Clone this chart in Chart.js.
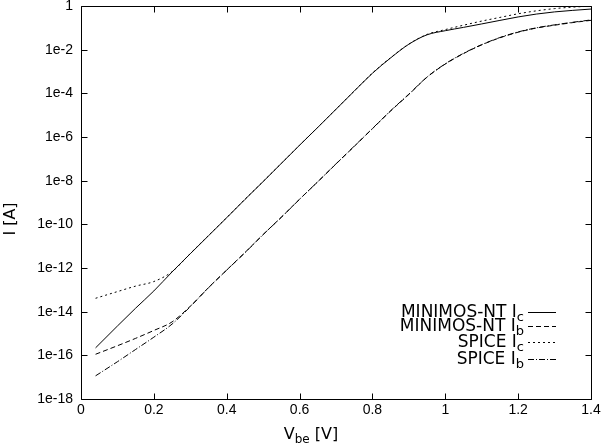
<!DOCTYPE html>
<html>
<head>
<meta charset="utf-8">
<title>Gummel plot</title>
<script src="https://cdn.jsdelivr.net/npm/chart.js@4.4.0/dist/chart.umd.min.js"></script>
<style>
    html, body { margin: 0; padding: 0; background: #fff; }
    #wrap { width: 602px; height: 445px; }
</style>
</head>
<body>
<div id="wrap"><canvas id="gummelChart" width="602" height="445"></canvas></div>
<script>
/* Gummel plot: MINIMOS-NT vs SPICE */

// base-emitter voltage [V]
const vbe = [0.04, 0.1, 0.15, 0.2, 0.25, 0.3, 0.35, 0.4, 0.45, 0.5, 0.55, 0.6, 0.65, 0.7,
    0.75, 0.8, 0.85, 0.9, 0.95, 1.0, 1.05, 1.1, 1.15, 1.2, 1.25, 1.3, 1.35, 1.4];

// currents [A]
const icMinimos = [2.2e-16, 2.2e-15, 1.45e-14, 8.9e-14, 6.6e-13, 4.5e-12, 3.0e-11, 2.0e-10,
    1.38e-9, 9.1e-9, 6.2e-8, 4.2e-7, 2.75e-6, 1.86e-5, 1.26e-4, 8.3e-4, 4.2e-3, 1.78e-2,
    4.8e-2, 7.4e-2, 0.105, 0.151, 0.219, 0.316, 0.427, 0.537, 0.631, 0.724];
const ibMinimos = [1.12e-16, 2.75e-16, 6.0e-16, 1.38e-15, 3.4e-15, 1.78e-14, 1.26e-13, 8.1e-13,
    5.1e-12, 3.4e-11, 2.14e-10, 1.41e-9, 8.9e-9, 5.8e-8, 3.7e-7, 2.4e-6, 1.55e-5, 8.9e-5,
    5.5e-4, 2.2e-3, 6.6e-3, 1.66e-2, 3.5e-2, 6.3e-2, 9.8e-2, 0.132, 0.174, 0.22];
const icSpice = [4.1e-14, 8.3e-14, 1.48e-13, 2.4e-13, 6.8e-13, 4.6e-12, 3.1e-11, 2.05e-10,
    1.4e-9, 9.2e-9, 6.2e-8, 4.2e-7, 2.8e-6, 1.88e-5, 1.28e-4, 8.5e-4, 4.3e-3, 1.8e-2,
    5.0e-2, 8.3e-2, 0.132, 0.204, 0.30, 0.44, 0.60, 0.76, 0.89, 0.98];
const ibSpice = [1.15e-17, 5.1e-17, 1.86e-16, 6.8e-16, 2.7e-15, 1.7e-14, 1.25e-13, 8.0e-13,
    5.0e-12, 3.4e-11, 2.1e-10, 1.4e-9, 9.0e-9, 5.9e-8, 3.8e-7, 2.45e-6, 1.6e-5, 9.2e-5,
    5.6e-4, 2.25e-3, 6.8e-3, 1.7e-2, 3.6e-2, 6.5e-2, 0.10, 0.137, 0.18, 0.23];

// axis ticks
const xTicks = [0, 0.2, 0.4, 0.6, 0.8, 1.0, 1.2, 1.4];
const xTickLabels = ['0', '0.2', '0.4', '0.6', '0.8', '1', '1.2', '1.4'];
const yTicks = [1e-18, 1e-16, 1e-14, 1e-12, 1e-10, 1e-8, 1e-6, 1e-4, 1e-2, 1];
const yTickLabels = ['1e-18', '1e-16', '1e-14', '1e-12', '1e-10', '1e-8', '1e-6', '1e-4', '1e-2', '1'];

// legend entries: [text, subscript]
const seriesNames = [['MINIMOS-NT I', 'c'], ['MINIMOS-NT I', 'b'], ['SPICE I', 'c'], ['SPICE I', 'b']];
const seriesDash = [[], [5, 3], [2, 3], [6, 2, 1, 2]];
const seriesValues = [icMinimos, ibMinimos, icSpice, ibSpice];

const textFont = '"DejaVu Sans", sans-serif';

function toPoints(values) {
    return vbe.map(function(v, i) { return { x: v, y: values[i] }; });
}

// draw text with a subscript, anchored at (x, y) baseline
function subText(ctx, main, sub, x, y, align, size) {
    const subSize = Math.round(size * 0.76);
    ctx.font = size + 'px ' + textFont;
    const w1 = ctx.measureText(main).width;
    ctx.font = subSize + 'px ' + textFont;
    const w2 = ctx.measureText(sub).width;
    let start = x;
    if (align === 'right') start = x - w1 - w2;
    if (align === 'center') start = x - (w1 + w2) / 2;
    ctx.textAlign = 'left';
    ctx.textBaseline = 'alphabetic';
    ctx.font = size + 'px ' + textFont;
    ctx.fillText(main, start, y);
    ctx.font = subSize + 'px ' + textFont;
    ctx.fillText(sub, start + w1, y + 4);
    return start + w1 + w2;
}

// gnuplot-like frame with inward ticks, key and axis labels
const framePlugin = {
    id: 'gnuplotFrame',
    afterDraw(chart) {
        const ctx = chart.ctx;
        const a = chart.chartArea;
        const sx = chart.scales.x;
        const sy = chart.scales.y;
        const L = Math.round(a.left) + 0.5, R = Math.round(a.right) + 0.5;
        const T = Math.round(a.top) + 0.5, B = Math.round(a.bottom) + 0.5;
        ctx.save();
        ctx.strokeStyle = '#000';
        ctx.fillStyle = '#000';
        ctx.lineWidth = 1;
        ctx.setLineDash([]);
        ctx.beginPath();
        ctx.rect(L, T, R - L, B - T);
        xTicks.forEach(function(v) {
            const px = Math.round(sx.getPixelForValue(v)) + 0.5;
            ctx.moveTo(px, B); ctx.lineTo(px, B - 6);
            ctx.moveTo(px, T); ctx.lineTo(px, T + 6);
        });
        yTicks.forEach(function(v) {
            const py = Math.round(sy.getPixelForValue(v)) + 0.5;
            ctx.moveTo(L, py); ctx.lineTo(L + 6, py);
            ctx.moveTo(R, py); ctx.lineTo(R - 6, py);
        });
        ctx.stroke();

        // key
        const rowY = [312, 326, 342, 359];
        seriesNames.forEach(function(name, i) {
            subText(ctx, name[0], name[1], 524, rowY[i] + 5, 'right', 17);
            ctx.beginPath();
            ctx.setLineDash(seriesDash[i]);
            ctx.moveTo(528, rowY[i] + 0.5);
            ctx.lineTo(556, rowY[i] + 0.5);
            ctx.stroke();
        });
        ctx.setLineDash([]);

        // x title
        ctx.font = '16px ' + textFont;
        const wV = ctx.measureText('V').width;
        ctx.font = '12px ' + textFont;
        const wBe = ctx.measureText('be').width;
        ctx.font = '16px ' + textFont;
        const wRest = ctx.measureText(' [V]').width;
        let xs = 311 - (wV + wBe + wRest) / 2;
        xs = subText(ctx, 'V', 'be', xs, 439, 'left', 16);
        ctx.font = '16px ' + textFont;
        ctx.fillText(' [V]', xs, 439);

        // y title
        ctx.translate(15, 219);
        ctx.rotate(-Math.PI / 2);
        ctx.textAlign = 'center';
        ctx.fillText('I [A]', 0, 0);
        ctx.restore();
    }
};

document.addEventListener('DOMContentLoaded', function() {
    const ctx = document.getElementById('gummelChart');
    new Chart(ctx, {
        type: 'line',
        data: {
            datasets: seriesValues.map(function(values, i) {
                return {
                    label: seriesNames[i].join(''),
                    data: toPoints(values),
                    borderColor: '#000',
                    borderWidth: 1,
                    borderDash: seriesDash[i],
                    pointRadius: 0,
                    fill: false,
                    cubicInterpolationMode: 'monotone'
                };
            })
        },
        options: {
            responsive: false,
            animation: false,
            devicePixelRatio: 1,
            layout: { padding: { left: 0, top: 6, right: 11, bottom: 0 } },
            plugins: {
                legend: { display: false },
                tooltip: { enabled: false },
                title: { display: false }
            },
            scales: {
                x: {
                    type: 'linear',
                    min: 0,
                    max: 1.4,
                    grid: { display: false, drawTicks: false },
                    border: { display: false },
                    afterBuildTicks: function(scale) {
                        scale.ticks = xTicks.map(function(v) { return { value: v }; });
                    },
                    afterFit: function(scale) {
                        scale.height = 46;
                        scale.paddingLeft = 0;
                        scale.paddingRight = 0;
                    },
                    ticks: {
                        autoSkip: false,
                        maxRotation: 0,
                        padding: 3,
                        color: '#000',
                        font: { family: '"Liberation Sans", Arial, sans-serif', size: 14 },
                        callback: function(v, i) { return xTickLabels[i]; }
                    }
                },
                y: {
                    type: 'logarithmic',
                    min: 1e-18,
                    max: 1,
                    grid: { display: false, drawTicks: false },
                    border: { display: false },
                    afterBuildTicks: function(scale) {
                        scale.ticks = yTicks.map(function(v) { return { value: v }; });
                    },
                    afterFit: function(scale) {
                        scale.width = 81;
                        scale.paddingTop = 0;
                        scale.paddingBottom = 0;
                    },
                    ticks: {
                        autoSkip: false,
                        padding: 8,
                        color: '#000',
                        font: { family: '"Liberation Sans", Arial, sans-serif', size: 14 },
                        callback: function(v, i) { return yTickLabels[i]; }
                    }
                }
            }
        },
        plugins: [framePlugin]
    });
});
</script>
</body>
</html>
